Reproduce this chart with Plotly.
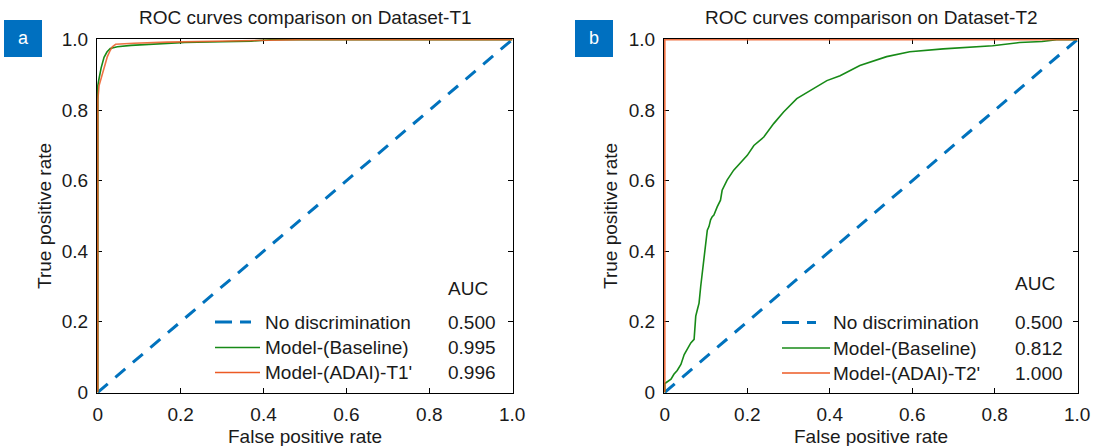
import plotly.graph_objects as go

# ---------------- data ----------------
diag_fpr = [0, 1]
diag_tpr = [0, 1]

a_base_fpr = [0, 0, 0.003, 0.008, 0.015, 0.022, 0.030, 0.040, 0.047, 0.080, 0.127, 0.210, 0.300, 0.370, 0.420, 1.0]
a_base_tpr = [0, 0.87, 0.89, 0.92, 0.95, 0.965, 0.975, 0.978, 0.980, 0.984, 0.987, 0.992, 0.994, 0.996, 1.0, 1.0]

a_adai_fpr = [0, 0, 0.003, 0.008, 0.015, 0.023, 0.030, 0.035, 0.043, 0.087, 0.167, 0.330, 0.490, 1.0]
a_adai_tpr = [0, 0.83, 0.87, 0.89, 0.915, 0.952, 0.970, 0.980, 0.987, 0.990, 0.993, 0.997, 1.0, 1.0]

b_base_fpr = [0, 0, 0.015, 0.022, 0.030, 0.039, 0.047, 0.055, 0.063, 0.071, 0.075, 0.079, 0.083,
              0.087, 0.091, 0.095, 0.099, 0.103, 0.107, 0.111, 0.115, 0.119, 0.127, 0.135, 0.139,
              0.151, 0.167, 0.183, 0.200, 0.216, 0.240, 0.264, 0.288, 0.320, 0.353, 0.393, 0.425,
              0.473, 0.538, 0.594, 0.675, 0.795, 0.860, 0.915, 0.950, 1.0]
b_base_tpr = [0, 0.025, 0.037, 0.051, 0.062, 0.079, 0.107, 0.125, 0.140, 0.150, 0.216, 0.235, 0.253,
              0.300, 0.340, 0.376, 0.432, 0.460, 0.470, 0.489, 0.498, 0.503, 0.526, 0.545, 0.573,
              0.602, 0.630, 0.650, 0.672, 0.700, 0.724, 0.762, 0.795, 0.833, 0.856, 0.884, 0.898,
              0.927, 0.952, 0.966, 0.974, 0.983, 0.992, 0.995, 1.0, 1.0]

b_adai_fpr = [0, 0, 1]
b_adai_tpr = [0, 1, 1]

titles = ["ROC curves comparison on Dataset-T1", "ROC curves comparison on Dataset-T2"]
panel_letters = ["a", "b"]
legend_names_a = ["No discrimination", "Model-(Baseline)", "Model-(ADAI)-T1'"]
legend_names_b = ["No discrimination", "Model-(Baseline)", "Model-(ADAI)-T2'"]
auc_a = ["0.500", "0.995", "0.996"]
auc_b = ["0.500", "0.812", "1.000"]
tick_vals = [0, 0.2, 0.4, 0.6, 0.8, 1.0]
tick_text = ["0", "0.2", "0.4", "0.6", "0.8", "1.0"]

# ---------------- style ----------------
BLUE = "#0072BD"
GREEN = "#178A17"
ORANGE = "#EC5A24"
BOX = "#0070C0"
FONT = "Liberation Sans, Arial, sans-serif"
FS = 19
TXT = "#1a1a1a"

W, H = 1094, 446
L, R, T, B = 97, 16, 39, 53
PW = W - L - R
PH = H - T - B


def pxx(p):
    return (p - L) / PW


def pxy(p):
    return (H - B - p) / PH


fig = go.Figure()

DASH = "13px,10px"

panels = [
    ("x", "y", a_base_fpr, a_base_tpr, a_adai_fpr, a_adai_tpr),
    ("x2", "y2", b_base_fpr, b_base_tpr, b_adai_fpr, b_adai_tpr),
]
for xa, ya, bf, bt, af, at in panels:
    fig.add_trace(go.Scatter(x=diag_fpr, y=diag_tpr, mode="lines", xaxis=xa, yaxis=ya,
                             line=dict(color=BLUE, width=3, dash=DASH), showlegend=False))
    fig.add_trace(go.Scatter(x=bf, y=bt, mode="lines", xaxis=xa, yaxis=ya,
                             line=dict(color=GREEN, width=1.6), showlegend=False))
    fig.add_trace(go.Scatter(x=af, y=at, mode="lines", xaxis=xa, yaxis=ya, opacity=0.85,
                             line=dict(color=ORANGE, width=1.6), showlegend=False))

ax_common = dict(
    range=[-0.002, 1.002], tickvals=tick_vals, ticktext=tick_text,
    ticks="inside", ticklen=5, tickwidth=1.2, tickcolor="black",
    showline=True, linecolor="black", linewidth=1.3, mirror="ticks",
    showgrid=False, zeroline=False, layer="below traces", automargin=False,
    tickfont=dict(family=FONT, size=FS, color=TXT),
)

xa_dom = [0, (513 - L) / PW]
xb_dom = [(664 - L) / PW, 1]

fig.update_layout(
    width=W, height=H,
    margin=dict(l=L, r=R, t=T, b=B, autoexpand=False),
    plot_bgcolor="white", paper_bgcolor="white",
    xaxis=dict(domain=xa_dom, anchor="y", ticklabelstandoff=4, **ax_common),
    yaxis=dict(domain=[0, 1], anchor="x", ticklabelstandoff=4, **ax_common),
    xaxis2=dict(domain=xb_dom, anchor="y2", ticklabelstandoff=4, **ax_common),
    yaxis2=dict(domain=[0, 1], anchor="x2", ticklabelstandoff=4, **ax_common),
    showlegend=False,
)

shapes = []
annotations = []

# titles, axis titles, panel letters
centers = [(97 + 513) / 2, (664 + 1078) / 2]
ylab_x = [44, 610]
box_x = [4, 575]
for i in range(2):
    annotations.append(dict(text=titles[i], x=pxx(centers[i]), y=pxy(17), xref="paper", yref="paper",
                            showarrow=False, xanchor="center", yanchor="middle",
                            font=dict(family=FONT, size=FS, color=TXT)))
    annotations.append(dict(text="False positive rate", x=pxx(centers[i]), y=pxy(436), xref="paper", yref="paper",
                            showarrow=False, xanchor="center", yanchor="middle",
                            font=dict(family=FONT, size=FS, color=TXT)))
    annotations.append(dict(text="True positive rate", x=pxx(ylab_x[i]), y=pxy(216), xref="paper", yref="paper",
                            showarrow=False, xanchor="center", yanchor="middle", textangle=-90,
                            font=dict(family=FONT, size=FS, color=TXT)))
    shapes.append(dict(type="rect", xref="paper", yref="paper",
                       x0=pxx(box_x[i]), x1=pxx(box_x[i] + 38), y0=pxy(57), y1=pxy(20),
                       fillcolor=BOX, line=dict(width=0), layer="above"))
    annotations.append(dict(text=panel_letters[i], x=pxx(box_x[i] + 19), y=pxy(38), xref="paper", yref="paper",
                            showarrow=False, xanchor="center", yanchor="middle",
                            font=dict(family=FONT, size=18, color="white")))

# legends (manual, with AUC column)
legend_specs = [
    dict(names=legend_names_a, aucs=auc_a, rows=[322, 347.5, 372.5], auc_y=288,
         s0=215, s1=260, d1=251, tx=263, vx=446),
    dict(names=legend_names_b, aucs=auc_b, rows=[322.5, 348, 373], auc_y=283,
         s0=782, s1=830, d1=816, tx=831, vx=1013),
]
colors = [BLUE, GREEN, ORANGE]
for spec in legend_specs:
    annotations.append(dict(text="AUC", x=pxx(spec["vx"]), y=pxy(spec["auc_y"]), xref="paper", yref="paper",
                            showarrow=False, xanchor="left", yanchor="middle",
                            font=dict(family=FONT, size=FS, color=TXT)))
    for k in range(3):
        yy = pxy(spec["rows"][k])
        if k == 0:
            shapes.append(dict(type="line", xref="paper", yref="paper", x0=pxx(spec["s0"]), x1=pxx(spec["d1"]),
                               y0=yy, y1=yy, line=dict(color=colors[k], width=3, dash="17px,8px")))
        else:
            shapes.append(dict(type="line", xref="paper", yref="paper", x0=pxx(spec["s0"]), x1=pxx(spec["s1"]),
                               y0=yy, y1=yy, line=dict(color=colors[k], width=1.3)))
        annotations.append(dict(text=spec["names"][k], x=pxx(spec["tx"]), y=yy, xref="paper", yref="paper",
                                showarrow=False, xanchor="left", yanchor="middle",
                                font=dict(family=FONT, size=FS, color=TXT)))
        annotations.append(dict(text=spec["aucs"][k], x=pxx(spec["vx"]), y=yy, xref="paper", yref="paper",
                                showarrow=False, xanchor="left", yanchor="middle",
                                font=dict(family=FONT, size=FS, color=TXT)))

fig.update_layout(shapes=shapes, annotations=annotations)
fig.write_html("out.html")
